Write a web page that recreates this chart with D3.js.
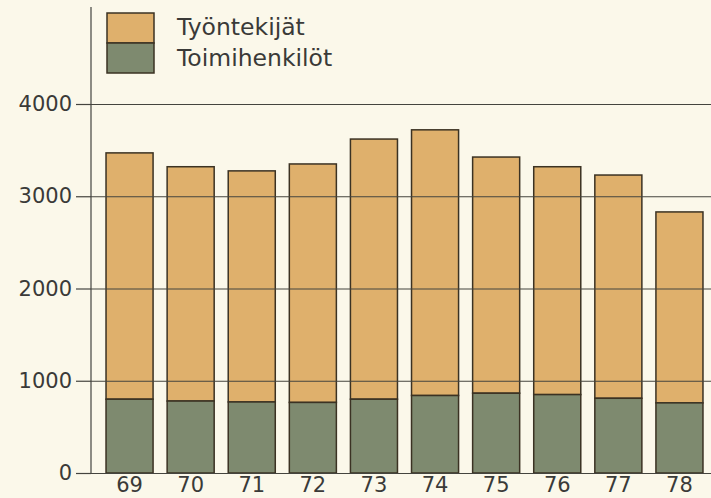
<!doctype html>
<html lang="fi">
<head>
<meta charset="UTF-8">
<title>Työntekijät ja toimihenkilöt</title>
<style>
  body { margin: 0; background: #fbf8ea; }
  svg { display: block; font-family: "DejaVu Sans", sans-serif; }
</style>
</head>
<body>
<div class="chart"></div>
<script src="https://d3js.org/d3.v7.min.js"></script>
<script>
const years = ['69', '70', '71', '72', '73', '74', '75', '76', '77', '78']
const toimihenkilot = [800, 780, 770, 765, 800, 840, 865, 850, 810, 760]
const totals = [3470, 3320, 3275, 3350, 3620, 3720, 3425, 3320, 3230, 2830]
const yTicks = [0, 1000, 2000, 3000, 4000]
const legendLabels = ['Työntekijät', 'Toimihenkilöt']

const data = years.map((y, i) => ({
  year: y,
  toimi: toimihenkilot[i],
  total: totals[i]
}))

const width = 711
const height = 498
const colors = { tyo: '#dfb06c', toimi: '#7e8a6f', stroke: '#3b3223', text: '#3a3a38' }

const svg = d3.select('.chart')
  .append('svg')
  .attr('width', width)
  .attr('height', height)

svg.append('rect')
  .attr('width', width)
  .attr('height', height)
  .attr('fill', '#fbf8ea')

const x = d3.scaleBand()
  .domain(years)
  .range([99, 710])
  .paddingInner(0.23)
  .paddingOuter(0.115)

const y = d3.scaleLinear()
  .domain([0, 4000])
  .range([473, 104])

const axisX = 91

// bars
const bars = svg.append('g')
bars.selectAll('.tyo')
  .data(data)
  .enter()
  .append('rect')
  .attr('class', 'tyo')
  .attr('x', d => x(d.year))
  .attr('width', x.bandwidth())
  .attr('y', d => y(d.total))
  .attr('height', d => y(d.toimi) - y(d.total))
  .attr('fill', colors.tyo)
  .attr('stroke', colors.stroke)
  .attr('stroke-width', 1.5)

bars.selectAll('.toimi')
  .data(data)
  .enter()
  .append('rect')
  .attr('class', 'toimi')
  .attr('x', d => x(d.year))
  .attr('width', x.bandwidth())
  .attr('y', d => y(d.toimi))
  .attr('height', d => y(0) - y(d.toimi))
  .attr('fill', colors.toimi)
  .attr('stroke', colors.stroke)
  .attr('stroke-width', 1.5)

// gridlines on top of bars
svg.append('g')
  .attr('transform', `translate(${axisX}, 0)`)
  .call(d3.axisLeft(y).tickValues(yTicks).tickSize(-(width - axisX)).tickFormat(''))
  .call(g => g.select('.domain').remove())
  .selectAll('line')
  .attr('stroke', '#44443e')
  .attr('stroke-width', 1.2)

// y axis ticks and labels
svg.append('g')
  .attr('transform', `translate(${axisX}, 0)`)
  .call(d3.axisLeft(y).tickValues(yTicks).tickSize(15).tickPadding(4).tickFormat(d3.format('d')))
  .call(g => g.select('.domain').remove())
  .call(g => g.selectAll('line').attr('stroke', '#44443e').attr('stroke-width', 1.2))
  .call(g => g.selectAll('text')
    .attr('fill', colors.text)
    .style('font-size', '21px')
    .style('font-family', '"DejaVu Sans", sans-serif'))

svg.append('line')
  .attr('x1', axisX)
  .attr('x2', axisX)
  .attr('y1', 7)
  .attr('y2', y(0))
  .attr('stroke', '#44443e')
  .attr('stroke-width', 1.2)

// x labels
svg.append('g')
  .attr('transform', `translate(0, ${y(0)})`)
  .call(d3.axisBottom(x).tickSize(0).tickPadding(4))
  .call(g => g.select('.domain').remove())
  .call(g => g.selectAll('text')
    .attr('fill', colors.text)
    .style('font-size', '21px')
    .style('font-family', '"DejaVu Sans", sans-serif'))

// legend
const legend = svg.append('g').attr('id', 'legend')
const legendColors = [colors.tyo, colors.toimi]
legendLabels.forEach((label, i) => {
  legend.append('rect')
    .attr('x', 107)
    .attr('y', 13 + i * 30)
    .attr('width', 47)
    .attr('height', 30)
    .attr('fill', legendColors[i])
    .attr('stroke', colors.stroke)
    .attr('stroke-width', 1.5)
  legend.append('text')
    .attr('x', 177)
    .attr('y', 35 + i * 31)
    .attr('fill', colors.text)
    .style('font-size', '23.5px')
    .text(label)
})
</script>
</body>
</html>
